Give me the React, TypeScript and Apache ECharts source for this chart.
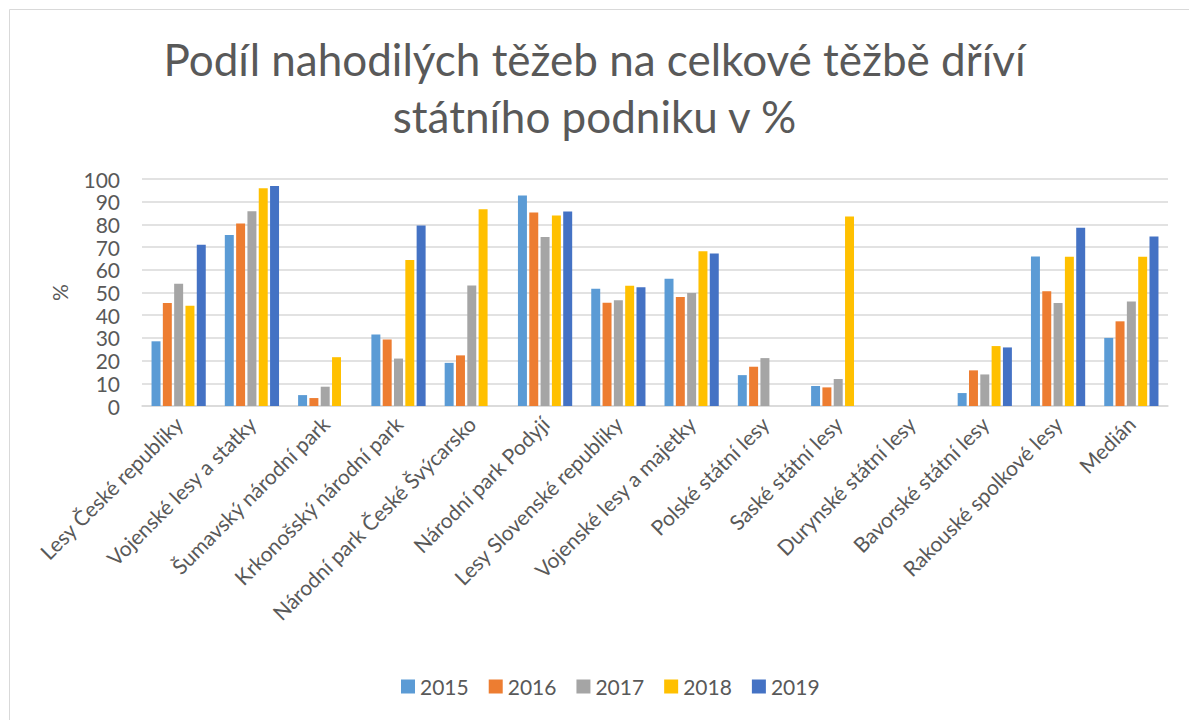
import React, { useEffect, useRef } from "react";
import * as echarts from "echarts";

const categories = [
  "Lesy České republiky",
  "Vojenské lesy a statky",
  "Šumavský národní park",
  "Krkonošský národní park",
  "Národní park České Švýcarsko",
  "Národní park Podyjí",
  "Lesy Slovenské republiky",
  "Vojenské lesy a majetky",
  "Polské státní lesy",
  "Saské státní lesy",
  "Durynské státní lesy",
  "Bavorské státní lesy",
  "Rakouské spolkové lesy",
  "Medián",
];

const years = ["2015", "2016", "2017", "2018", "2019"];

const v2015 = [28.5, 75.3, 4.8, 31.5, 19.0, 92.7, 51.7, 56.1, 13.6, 8.8, null, 5.7, 65.9, 30.0];
const v2016 = [45.4, 80.4, 3.5, 29.3, 22.3, 85.2, 45.5, 48.0, 17.3, 8.2, null, 15.7, 50.5, 37.3];
const v2017 = [53.9, 85.8, 8.5, 20.9, 53.1, 74.4, 46.6, 49.8, 21.1, 11.9, null, 13.9, 45.4, 46.0];
const v2018 = [44.2, 95.9, 21.5, 64.3, 86.7, 83.9, 53.0, 68.2, null, 83.5, null, 26.4, 65.7, 65.7];
const v2019 = [71.0, 96.9, null, 79.5, null, 85.7, 52.3, 67.2, null, null, null, 25.8, 78.5, 74.7];

const seriesValues = [v2015, v2016, v2017, v2018, v2019];
const colors = ["#5B9BD5", "#ED7D31", "#A5A5A5", "#FFC000", "#4472C4"];

const FONT = "Lato, 'Open Sans', sans-serif";
const TEXT = "#595959";

export default function App() {
  const ref = useRef<HTMLDivElement>(null);
  useEffect(() => {
    if (!ref.current) return;
    const chart = echarts.init(ref.current, undefined, { renderer: "svg" });
    chart.setOption({
      animation: false,
      backgroundColor: "#ffffff",
      textStyle: { fontFamily: FONT },
      title: {
        text: "Podíl nahodilých těžeb na celkové těžbě dříví\nstátního podniku v %",
        left: "center",
        top: 25,
        textStyle: {
          fontFamily: FONT,
          fontSize: 44,
          fontWeight: "normal",
          color: TEXT,
          lineHeight: 57,
        },
      },
      graphic: [
        {
          type: "rect",
          shape: { x: 9.5, y: 9.5, width: 1200, height: 720 },
          style: { fill: "none", stroke: "#D9D9D9", lineWidth: 1 },
          silent: true,
        },
      ],
      legend: {
        data: years,
        bottom: 18,
        left: 396,
        itemWidth: 14,
        itemHeight: 14,
        itemGap: 20,
        icon: "rect",
        textStyle: { fontFamily: FONT, fontSize: 21, color: TEXT },
      },
      grid: { left: 142, right: 21, top: 179, bottom: 314, containLabel: false },
      xAxis: {
        type: "category",
        data: categories,
        axisLine: { lineStyle: { color: "#D9D9D9", width: 1.5 } },
        axisTick: { show: false },
        axisLabel: {
          rotate: 45,
          interval: 0,
          margin: 14,
          fontFamily: FONT,
          fontSize: 21,
          color: TEXT,
        },
      },
      yAxis: {
        type: "value",
        min: 0,
        max: 100,
        interval: 10,
        name: "%",
        nameLocation: "middle",
        nameGap: 72,
        nameRotate: 90,
        nameTextStyle: { fontFamily: FONT, fontSize: 21, color: TEXT },
        axisLine: { show: false },
        axisTick: { show: false },
        axisLabel: { fontFamily: FONT, fontSize: 21, color: TEXT, margin: 22 },
        splitLine: { lineStyle: { color: "#D9D9D9", width: 1.5 } },
      },
      series: years.map((y, i) => ({
        name: y,
        type: "bar",
        data: seriesValues[i],
        barGap: "26%",
        barCategoryGap: "26%",
        itemStyle: { color: colors[i] },
      })),
    });
    return () => chart.dispose();
  }, []);
  return <div ref={ref} style={{ width: 1189, height: 720, position: "absolute", left: 0, top: 0 }} />;
}
